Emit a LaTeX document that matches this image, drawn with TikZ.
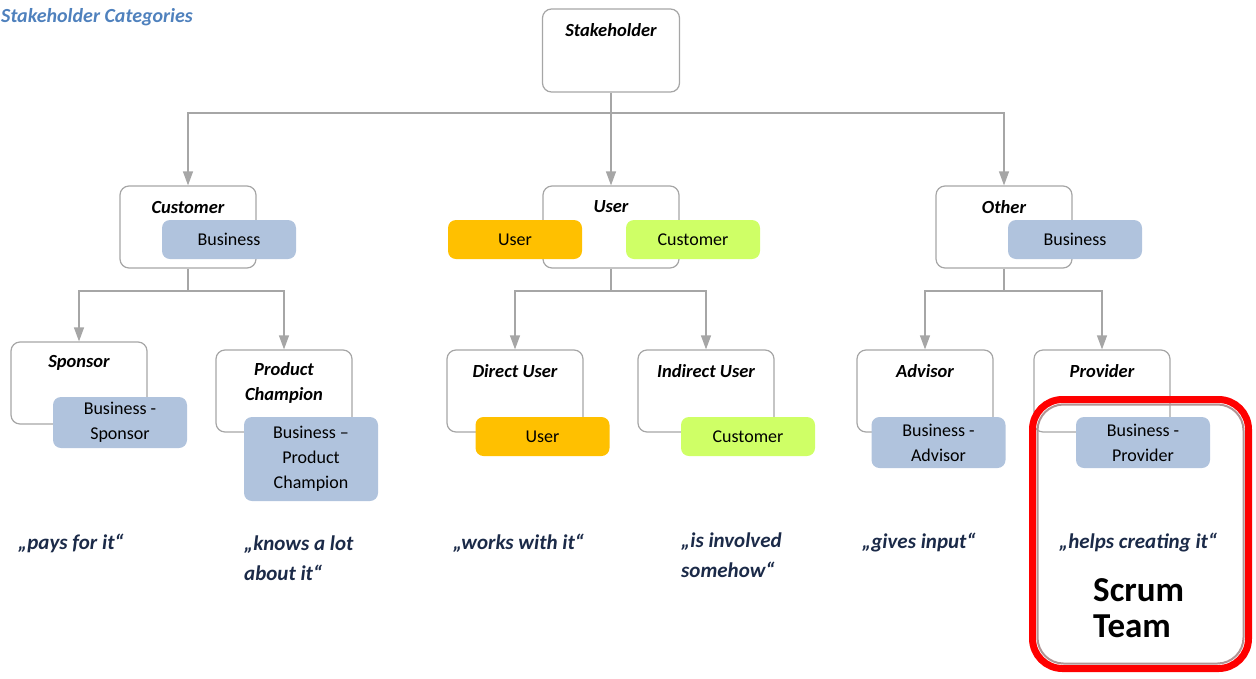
\documentclass[tikz,border=0pt]{standalone}
\usepackage{fontspec}
\setmainfont{Carlito}
\usetikzlibrary{arrows.meta}
\definecolor{boxline}{HTML}{A6A6A6}
\definecolor{bizblue}{HTML}{B0C3DD}
\definecolor{userorange}{HTML}{FFC000}
\definecolor{custgreen}{HTML}{CFFF66}
\definecolor{quotenavy}{HTML}{1B2A48}
\definecolor{titleblue}{HTML}{4F81BD}
\definecolor{shadered}{HTML}{B09494}
\begin{document}
\begin{tikzpicture}[x=1pt,y=-1pt,
    role/.style={draw=boxline, line width=1.2pt, rounded corners=9pt, fill=white,
      minimum width=136pt, minimum height=82pt},
    rolename/.style={font=\fontsize{18.5}{25}\selectfont\bfseries\itshape, align=center, inner sep=0pt},
    tag/.style={rounded corners=8pt, minimum width=134pt, minimum height=39pt, inner sep=0pt,
      align=center, font=\fontsize{18}{25}\selectfont},
    link/.style={draw=boxline, line width=1.2pt},
    arr/.style={link, -{Triangle[width=10pt,length=14pt]}},
    saying/.style={font=\fontsize{21}{30}\selectfont\bfseries\itshape, color=quotenavy,
      align=left, anchor=west, inner sep=0pt}
  ]

    \useasboundingbox (0,0) rectangle (1256,678);

    \node[anchor=west, inner sep=0pt, color=titleblue, font=\fontsize{20}{25}\selectfont\bfseries\itshape]
      (title) at (1,17) {Stakeholder Categories};

    % boxes
    \node[role, minimum width=137pt, minimum height=83pt] (stake) at (611,50.5) {};
    \node[rolename] (stakename) at (611,30) {Stakeholder};

    \node[role] (cust) at (188,227) {};
    \node[rolename] (custname) at (188,207) {Customer};
    \node[role] (user) at (611,227) {};
    \node[rolename] (username) at (611,207) {User};
    \node[role] (other) at (1004,227) {};
    \node[rolename] (othername) at (1004,207) {Other};

    \node[role] (spon) at (79,383) {};
    \node[rolename] (sponname) at (79,363) {Sponsor};
    \node[role] (champ) at (284,391) {};
    \node[rolename] (champname) at (284,383) {Product\\Champion};
    \node[role] (direct) at (515,391) {};
    \node[rolename] (directname) at (515,371) {Direct User};
    \node[role] (indirect) at (706,391) {};
    \node[rolename] (indirectname) at (706,371) {Indirect User};
    \node[role] (advisor) at (925,391) {};
    \node[rolename] (advisorname) at (925,371) {Advisor};
    \node[role] (provider) at (1102,391) {};
    \node[rolename] (providername) at (1102,371) {Provider};

    % connectors
    \coordinate (topfork) at (611,113);
    \coordinate (custfork) at (188,291);
    \coordinate (userfork) at (611,291);
    \coordinate (otherfork) at (1004,291);

    \draw[link] (stake.south) -- (topfork);
    \draw[arr] (topfork) -| (cust.north);
    \draw[arr] (topfork) -- (user.north);
    \draw[arr] (topfork) -| (other.north);

    \draw[link] (cust.south) -- (custfork);
    \draw[arr] (custfork) -| (spon.north);
    \draw[arr] (custfork) -| (champ.north);
    \draw[link] (user.south) -- (userfork);
    \draw[arr] (userfork) -| (direct.north);
    \draw[arr] (userfork) -| (indirect.north);
    \draw[link] (other.south) -- (otherfork);
    \draw[arr] (otherfork) -| (advisor.north);
    \draw[arr] (otherfork) -| (provider.north);

    % tags
    \node[tag, fill=bizblue] (custbiz) at (229,239.5) {Business};
    \node[tag, fill=userorange] (useruser) at (515,239.5) {User};
    \node[tag, fill=custgreen] (usercust) at (693,239.5) {Customer};
    \node[tag, fill=bizblue] (otherbiz) at (1075,239.5) {Business};

    \node[tag, fill=bizblue, minimum height=51pt] (sponbiz) at (120,422.5) {Business -\\Sponsor};
    \node[tag, fill=bizblue, minimum height=84pt] (champbiz) at (311,459) {Business --\\Product\\Champion};
    \node[tag, fill=userorange] (directuser) at (542.5,436.5) {User};
    \node[tag, fill=custgreen] (indirectcust) at (748,436.5) {Customer};
    \node[tag, fill=bizblue, minimum height=51pt] (advisorbiz) at (938.5,442.5) {Business -\\Advisor};
    \node[tag, fill=bizblue, minimum height=51pt] (providerbiz) at (1143,442.5) {Business -\\Provider};

    % sayings
    \node[saying] (pays) at (18,543) {„pays for it“};
    \node[saying] (knows) at (244,558) {„knows a lot\\about it“};
    \node[saying] (works) at (453,543) {„works with it“};
    \node[saying] (involved) at (681,555) {„is involved\\somehow“};
    \node[saying] (gives) at (862,543) {„gives input“};
    \node[saying] (helps) at (1059,543) {„helps creating it“};

    % scrum team
    \node[draw=shadered, line width=2pt, rounded corners=26pt, minimum width=206pt, minimum height=259pt]
      (scrumshade) at (1140.5,534) {};
    \node[draw=red, line width=7pt, rounded corners=30pt, minimum width=216pt, minimum height=269pt]
      (scrum) at (1140.5,534) {};
    \node[anchor=west, align=left, inner sep=0pt, font=\fontsize{35}{36}\selectfont\bfseries]
      (scrumname) at (1093,608) {Scrum\\Team};

\end{tikzpicture}
\end{document}
